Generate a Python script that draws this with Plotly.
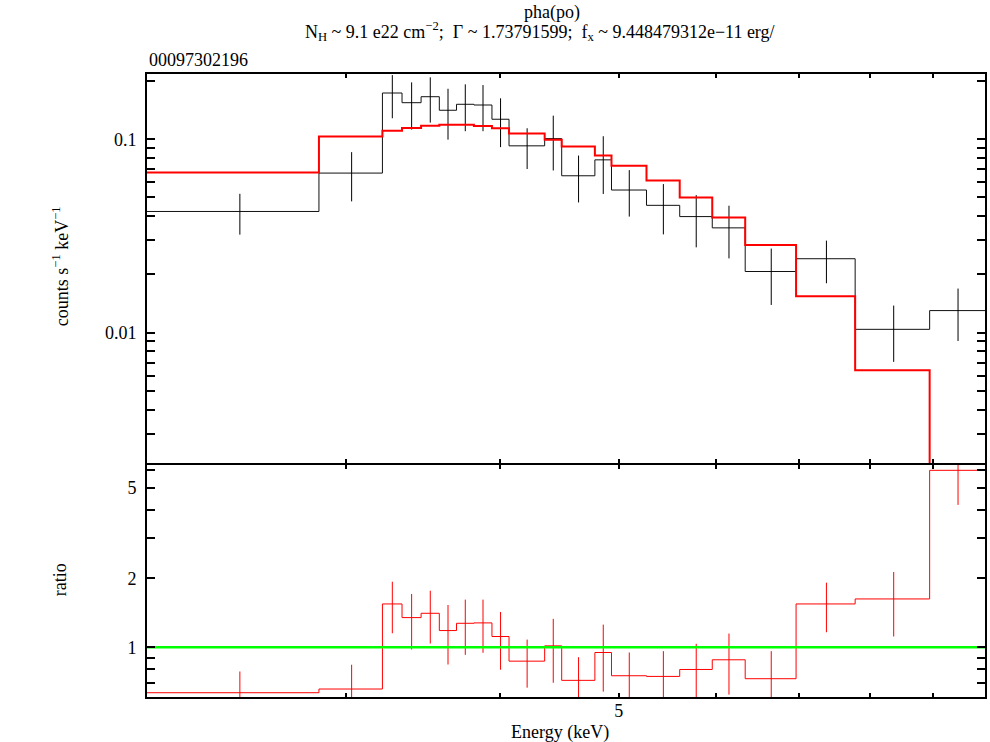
import numpy as np
import plotly.graph_objects as go
from plotly.subplots import make_subplots

# bin edges (keV) and values
edges = [2.067, 2.852, 3.212, 3.332, 3.453, 3.573, 3.690, 3.812, 3.943, 4.071, 4.352,
         4.493, 4.781, 4.932, 5.266, 5.604, 5.956, 6.335, 6.968, 7.783, 8.948, 9.925]

data = [0.0423, 0.0668, 0.1733, 0.1544, 0.1658, 0.1411, 0.1515, 0.1502, 0.1268, 0.0924, 0.1007,
        0.0647, 0.0782, 0.0546, 0.0455, 0.0398, 0.0348, 0.0207, 0.0241, 0.0104, 0.0130]
data_hi = [0.0522, 0.0857, 0.2145, 0.1967, 0.2088, 0.1823, 0.1921, 0.1905, 0.1627, 0.1139, 0.1323,
           0.0823, 0.1036, 0.0692, 0.0586, 0.0514, 0.0453, 0.0272, 0.0299, 0.0138, 0.0169]
data_lo = [0.0321, 0.0477, 0.1283, 0.1121, 0.1218, 0.0995, 0.1100, 0.1100, 0.0910, 0.0701, 0.0689,
           0.0471, 0.0521, 0.0398, 0.0322, 0.0276, 0.0242, 0.0139, 0.0180, 0.00706, 0.00905]
model = [0.0673, 0.1031, 0.1107, 0.1143, 0.1175, 0.1189, 0.1189, 0.1171, 0.1139, 0.1069, 0.0992,
         0.0916, 0.0823, 0.0729, 0.0612, 0.0500, 0.0394, 0.0284, 0.0154, 0.00639, 0.0020]

ratio = [0.632, 0.656, 1.547, 1.348, 1.408, 1.183, 1.273, 1.278, 1.114, 0.869, 1.014,
         0.716, 0.948, 0.750, 0.745, 0.799, 0.881, 0.728, 1.547, 1.627, 5.952]
ratio_hi = [0.783, 0.838, 1.936, 1.711, 1.768, 1.531, 1.616, 1.616, 1.427, 1.080, 1.331,
            0.904, 1.256, 0.948, 0.961, 1.035, 1.148, 0.961, 1.917, 2.135, 7.70]
ratio_lo = [0.48, 0.47, 1.151, 0.977, 1.038, 0.840, 0.926, 0.945, 0.797, 0.665, 0.699,
            0.52, 0.639, 0.55, 0.52, 0.55, 0.620, 0.49, 1.163, 1.114, 4.199]

# labelled ticks and unlabelled (minor) ticks
x_major = [5]
x_minor = [3, 4, 6, 7, 8, 9]
y_major = [0.01, 0.1]
y_minor = [0.003, 0.004, 0.005, 0.006, 0.007, 0.008, 0.009, 0.02, 0.03, 0.04,
           0.05, 0.06, 0.07, 0.08, 0.09, 0.2]
r_major = [1, 2, 5]
r_minor = [0.6, 0.7, 0.8, 0.9, 3, 4, 6]

FONT = "Liberation Serif"
FS = 18

edges = np.array(edges)
centers = (edges[:-1] + edges[1:]) / 2


def steps(vals):
    return list(vals) + [vals[-1]]


fig = make_subplots(rows=2, cols=1, shared_xaxes=True, vertical_spacing=0)

# top panel: data histogram, error bars, model
fig.add_trace(go.Scatter(x=edges, y=steps(data), mode='lines', line_shape='hv',
                         line=dict(color='#111', width=1), showlegend=False), row=1, col=1)
fig.add_trace(go.Scatter(
    x=centers, y=data, mode='markers', marker=dict(size=0.1, color='black'),
    error_y=dict(type='data', symmetric=False,
                 array=np.array(data_hi) - np.array(data),
                 arrayminus=np.array(data) - np.array(data_lo),
                 color='black', thickness=1, width=0),
    showlegend=False), row=1, col=1)
fig.add_trace(go.Scatter(x=edges, y=steps(model), mode='lines', line_shape='hv',
                         line=dict(color='#ff0000', width=2), showlegend=False), row=1, col=1)

# bottom panel: ratio
fig.add_trace(go.Scatter(x=edges, y=steps(ratio), mode='lines', line_shape='hv',
                         line=dict(color='#ff0000', width=1), showlegend=False), row=2, col=1)
fig.add_trace(go.Scatter(
    x=centers, y=ratio, mode='markers', marker=dict(size=0.1, color='red'),
    error_y=dict(type='data', symmetric=False,
                 array=np.array(ratio_hi) - np.array(ratio),
                 arrayminus=np.array(ratio) - np.array(ratio_lo),
                 color='#ff0000', thickness=1, width=0),
    showlegend=False), row=2, col=1)
fig.add_trace(go.Scatter(x=[edges[0], edges[-1]], y=[1, 1], mode='lines',
                         line=dict(color='#00ff00', width=2.5), showlegend=False), row=2, col=1)

xr = [np.log10(edges[0]), np.log10(edges[-1])]
axis_common = dict(showline=True, linecolor='black', linewidth=2, mirror='ticks',
                   ticks='inside', tickcolor='black', tickwidth=1.5, showgrid=False,
                   zeroline=False, tickfont=dict(family=FONT, size=FS, color='black'))


def minor(vals, length):
    return dict(tickvals=vals, ticks='inside', ticklen=length, tickcolor='black',
                tickwidth=1.5, showgrid=False)


fig.update_xaxes(type='log', range=xr, tickvals=x_major, ticktext=['5'], ticklen=4,
                 minor=minor(x_minor, 4), **axis_common)
fig.update_xaxes(showticklabels=False, row=1, col=1)
fig.update_xaxes(ticklabelstandoff=-4, row=2, col=1)

# panels split at y=464px; lines sit outside each panel, so leave 2px between them
fig.update_yaxes(type='log', range=[-2.674, -0.663], domain=[0.3756, 1],
                 tickvals=y_major, ticktext=['0.01', '0.1'], minor=minor(y_minor, 8),
                 ticklen=8, ticklabelstandoff=5, **axis_common, row=1, col=1)
fig.update_yaxes(type='log', range=[-0.218, 0.798], domain=[0, 0.3724],
                 tickvals=r_major, ticktext=['1', '2', '5'], minor=minor(r_minor, 8),
                 ticklen=8, ticklabelstandoff=5, **axis_common, row=2, col=1)

txt = dict(family=FONT, size=FS, color='black')


def label(text, x, y, **kw):
    fig.add_annotation(text=text, x=x, y=y, xref='paper', yref='paper', showarrow=False,
                       xanchor=kw.pop('xanchor', 'center'), yanchor='middle', font=txt, **kw)


label('pha(po)', 0.4833, 1.0995)
label('N<sub>H</sub> ~ 9.1 e22 cm<sup>\u22122</sup>;  \u0393 ~ 1.73791599;  '
      'f<sub>x</sub> ~ 9.448479312e\u221211 erg/', 0.469, 1.069)
label('00097302196', 0, 1.0225, xanchor='left')
label('counts s<sup>\u22121</sup> keV<sup>\u22121</sup>', -0.1036, 0.6918, textangle=-90)
label('ratio', -0.1036, 0.1878, textangle=-90)
label('Energy (keV)', 0.4929, -0.0562)

fig.update_layout(width=990, height=742, margin=dict(l=147, r=3, t=74, b=45),
                  paper_bgcolor='white', plot_bgcolor='white',
                  font=dict(family=FONT, color='black'))

# drop the browser's default 8px body margin so the figure fills the window
fig.write_html("out.html", config={'displayModeBar': False},
               post_script="document.body.style.margin='0';")
